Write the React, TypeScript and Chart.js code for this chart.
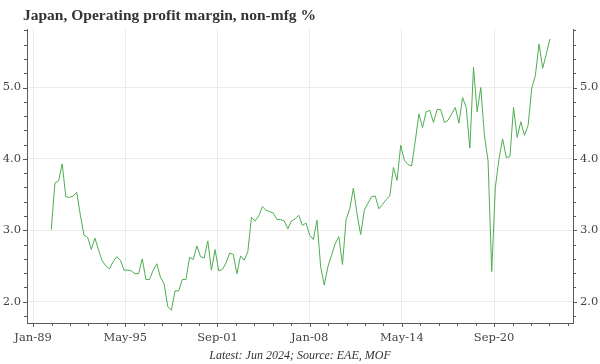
import React, { useEffect, useRef } from "react";
import { Chart, registerables } from "chart.js";

Chart.register(...registerables);

const TITLE = "Japan, Operating profit margin, non-mfg %";
const FOOTNOTE = "Latest: Jun 2024; Source: EAE, MOF";

// Quarterly series starting Q1 1990, ending Q2 2024
const FIRST_YEAR = 1990;
const FIRST_QUARTER = 1;
const MARGIN: number[] = [
  3.01, 3.66, 3.69, 3.93, 3.47, 3.46, 3.48, 3.53, 3.21, 2.93,
  2.90, 2.73, 2.89, 2.72, 2.57, 2.50, 2.46, 2.56, 2.63, 2.58,
  2.44, 2.44, 2.43, 2.39, 2.39, 2.60, 2.31, 2.31, 2.44, 2.53,
  2.34, 2.25, 1.93, 1.88, 2.15, 2.15, 2.31, 2.31, 2.62, 2.59,
  2.78, 2.63, 2.61, 2.85, 2.44, 2.73, 2.43, 2.45, 2.54, 2.68,
  2.66, 2.39, 2.64, 2.58, 2.70, 3.18, 3.13, 3.20, 3.33, 3.28,
  3.26, 3.24, 3.15, 3.15, 3.13, 3.02, 3.13, 3.16, 3.21, 3.07,
  3.10, 2.93, 2.87, 3.14, 2.49, 2.23, 2.49, 2.65, 2.81, 2.91,
  2.52, 3.15, 3.30, 3.59, 3.23, 2.94, 3.28, 3.38, 3.47, 3.48,
  3.30, 3.36, 3.43, 3.48, 3.88, 3.70, 4.19, 3.98, 3.92, 3.90,
  4.25, 4.63, 4.44, 4.66, 4.68, 4.51, 4.69, 4.69, 4.51, 4.54,
  4.63, 4.72, 4.50, 4.86, 4.72, 4.15, 5.28, 4.66, 5.00, 4.33,
  3.97, 2.42, 3.60, 4.00, 4.28, 4.02, 4.03, 4.72, 4.30, 4.52,
  4.33, 4.47, 4.99, 5.17, 5.61, 5.27, 5.47, 5.68,
];

const X_TICK_LABELS = ["Jan-89", "May-95", "Sep-01", "Jan-08", "May-14", "Sep-20"];
const Y_TICKS = [2, 3, 4, 5];

const MONTHS = ["Jan", "Feb", "Mar", "Apr", "May", "Jun", "Jul", "Aug", "Sep", "Oct", "Nov", "Dec"];
const BASE_YEAR = 1989;

const LINE_COLOR = "#4dae4f";
const GRID_COLOR = "#ebebeb";
const AXIS_COLOR = "#5a5a5a";
const TEXT_COLOR = "#444444";
const TICK_FONT = { family: "'DejaVu Serif', serif", size: 11.5 };

// months since 1 Jan 1989
function labelToMonths(label: string): number {
  const [mon, yy] = label.split("-");
  const y2 = parseInt(yy, 10);
  const year = y2 > 50 ? 1900 + y2 : 2000 + y2;
  return (year - BASE_YEAR) * 12 + MONTHS.indexOf(mon);
}
function monthsToLabel(v: number): string {
  const m = Math.round(v);
  const year = BASE_YEAR + Math.floor(m / 12);
  const mon = MONTHS[((m % 12) + 12) % 12];
  return `${mon}-${String(year % 100).padStart(2, "0")}`;
}
function quarterEnd(i: number): number {
  const q = FIRST_QUARTER - 1 + i;
  const year = FIRST_YEAR + Math.floor(q / 4);
  const endMonth = (q % 4) * 3 + 3; // end of quarter
  return (year - BASE_YEAR) * 12 + endMonth;
}

const X_TICK_VALUES = X_TICK_LABELS.map(labelToMonths);

const axisDecor = {
  id: "axisDecor",
  afterDraw(chart: any) {
    const { ctx, chartArea: a, scales } = chart;
    const xs = scales.x;
    const ys = scales.y;
    ctx.save();
    ctx.strokeStyle = AXIS_COLOR;
    ctx.lineWidth = 1;
    ctx.beginPath();
    // y ticks (minor every 0.2)
    for (let k = Math.ceil(ys.min * 5); k <= Math.floor(ys.max * 5 + 1e-9); k++) {
      const v = k / 5;
      const major = Math.abs(v - Math.round(v)) < 1e-9;
      const len = major ? 4 : 3;
      const py = Math.round(ys.getPixelForValue(v)) + 0.5;
      ctx.moveTo(a.left, py);
      ctx.lineTo(a.left - len, py);
      ctx.moveTo(a.right, py);
      ctx.lineTo(a.right + len, py);
    }
    // x ticks (5 minor intervals between labelled ticks)
    const step = (X_TICK_VALUES[1] - X_TICK_VALUES[0]) / 5;
    for (let k = Math.ceil((xs.min - X_TICK_VALUES[0]) / step); ; k++) {
      const v = X_TICK_VALUES[0] + k * step;
      if (v > xs.max) break;
      const major = k % 5 === 0;
      const len = major ? 4 : 3;
      const px = Math.round(xs.getPixelForValue(v)) + 0.5;
      ctx.moveTo(px, a.bottom);
      ctx.lineTo(px, a.bottom + len);
    }
    ctx.stroke();

    // title
    ctx.fillStyle = "#333333";
    ctx.font = "bold 15.5px 'Liberation Serif', serif";
    ctx.textAlign = "left";
    ctx.textBaseline = "alphabetic";
    ctx.fillText(TITLE, 23, 20);

    // footnote
    ctx.fillStyle = "#333333";
    ctx.font = "italic 12px 'Liberation Serif', serif";
    ctx.textAlign = "center";
    ctx.fillText(FOOTNOTE, 300, 359);
    ctx.restore();
  },
};

export default function App() {
  const ref = useRef<HTMLCanvasElement>(null);
  useEffect(() => {
    const canvas = ref.current;
    if (!canvas) return;
    const points = MARGIN.map((v, i) => ({ x: quarterEnd(i), y: v }));
    const yScale = (position: "left" | "right") => ({
      type: "linear" as const,
      position,
      min: 1.7,
      max: 5.82,
      afterBuildTicks: (s: any) => {
        s.ticks = Y_TICKS.map((v) => ({ value: v }));
      },
      afterFit: (s: any) => {
        s.width = 27;
      },
      grid: {
        display: position === "left",
        color: GRID_COLOR,
        drawTicks: false,
      },
      border: { display: true, color: AXIS_COLOR, width: 1 },
      ticks: {
        padding: position === "left" ? 6 : 7,
        color: TEXT_COLOR,
        font: TICK_FONT,
        callback: (v: any) => Number(v).toFixed(1),
      },
    });
    const chart = new Chart(canvas, {
      type: "line",
      data: {
        datasets: [
          {
            data: points,
            borderColor: LINE_COLOR,
            borderWidth: 1,
            pointRadius: 0,
            tension: 0,
            fill: false,
          },
        ],
      },
      options: {
        animation: false,
        responsive: false,
        maintainAspectRatio: false,
        devicePixelRatio: 1,
        layout: { padding: { top: 29, left: 0, right: 0, bottom: 0 } },
        plugins: {
          legend: { display: false },
          tooltip: { enabled: false },
          title: { display: false },
        },
        scales: {
          x: {
            type: "linear",
            min: -5,
            max: 445,
            afterBuildTicks: (s: any) => {
              s.ticks = X_TICK_VALUES.map((v) => ({ value: v }));
            },
            afterFit: (s: any) => {
              s.height = 41;
            },
            grid: { color: GRID_COLOR, drawTicks: false },
            border: { display: true, color: AXIS_COLOR, width: 1 },
            ticks: {
              padding: 8,
              color: TEXT_COLOR,
              font: TICK_FONT,
              maxRotation: 0,
              autoSkip: false,
              callback: (v: any) => monthsToLabel(Number(v)),
            },
          },
          y: yScale("left"),
          y2: yScale("right"),
        } as any,
      },
      plugins: [axisDecor],
    });
    return () => chart.destroy();
  }, []);
  return (
    <div style={{ position: "fixed", left: 0, top: 0, width: 600, height: 364, background: "#ffffff" }}>
      <canvas ref={ref} width={600} height={364} style={{ width: 600, height: 364, display: "block" }} />
    </div>
  );
}
